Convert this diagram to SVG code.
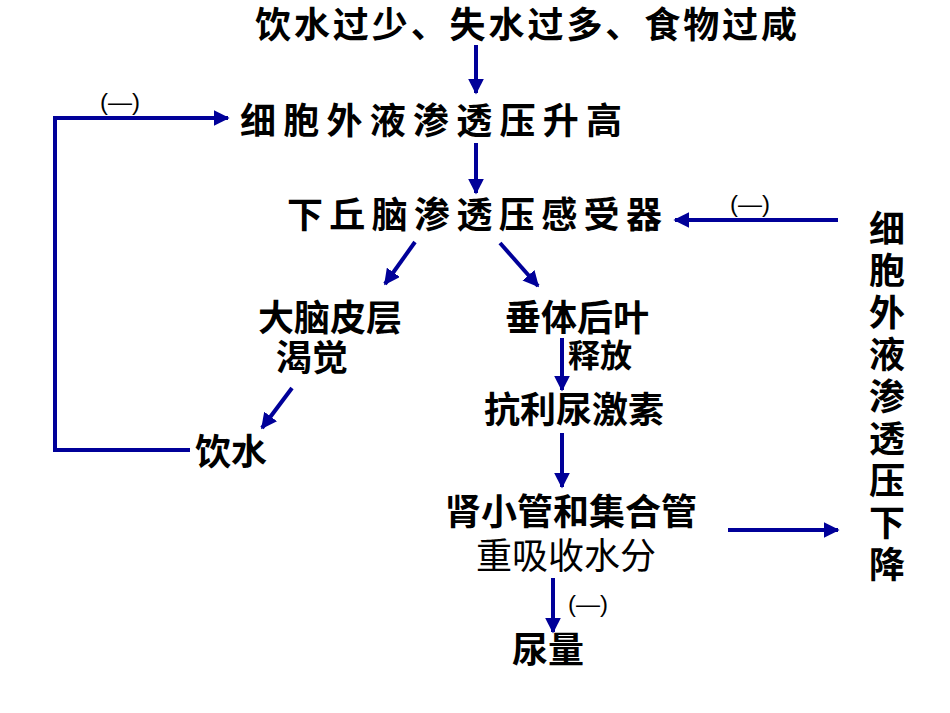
<svg xmlns="http://www.w3.org/2000/svg" width="950" height="713" viewBox="0 0 950 713">
<style>
text{font-family:"Liberation Sans","Noto Sans CJK SC",sans-serif;fill:#000;font-weight:bold;font-size:36px}
.r{font-weight:normal}
.s{font-size:24px;font-weight:normal}
.c line,.c polyline{stroke:#000099;stroke-width:4;fill:none}
</style>
<defs><marker id="a" viewBox="0 0 10 10" refX="9" refY="5" markerWidth="4" markerHeight="4" orient="auto" markerUnits="strokeWidth"><path d="M0,0L10,5L0,10z" fill="#000099"/></marker></defs>
<rect width="950" height="713" fill="#fff"/>
<g class="c">
<line x1="476" y1="45" x2="476" y2="93" marker-end="url(#a)"/>
<polyline points="190,450 55,450 55,118 228,118" marker-end="url(#a)"/>
<line x1="476" y1="143" x2="476" y2="193" marker-end="url(#a)"/>
<line x1="838" y1="220" x2="675" y2="220" marker-end="url(#a)"/>
<line x1="415" y1="242" x2="385" y2="284" marker-end="url(#a)"/>
<line x1="500" y1="243" x2="538" y2="286" marker-end="url(#a)"/>
<line x1="562" y1="338" x2="562" y2="390" marker-end="url(#a)"/>
<line x1="292" y1="388" x2="262" y2="428" marker-end="url(#a)"/>
<line x1="562" y1="433" x2="562" y2="487" marker-end="url(#a)"/>
<line x1="728" y1="530" x2="838" y2="530" marker-end="url(#a)"/>
<line x1="553" y1="578" x2="553" y2="632" marker-end="url(#a)"/>
</g>
<g id="n1"><text x="255" y="38" textLength="542">饮水过少、失水过多、食物过咸</text></g>
<g id="n2"><text x="240" y="134" textLength="382">细胞外液渗透压升高</text><text class="s" x="120" y="110" text-anchor="middle">(—)</text></g>
<g id="n3"><text x="287" y="228" textLength="375">下丘脑渗透压感受器</text><text class="s" x="750" y="212" text-anchor="middle">(—)</text></g>
<g id="n4"><text x="887" y="242" text-anchor="middle">细</text><text x="887" y="284" text-anchor="middle">胞</text><text x="887" y="326" text-anchor="middle">外</text><text x="887" y="368" text-anchor="middle">液</text><text x="887" y="410" text-anchor="middle">渗</text><text x="887" y="452" text-anchor="middle">透</text><text x="887" y="494" text-anchor="middle">压</text><text x="887" y="536" text-anchor="middle">下</text><text x="887" y="578" text-anchor="middle">降</text></g>
<g id="n5"><text x="330" y="331" text-anchor="middle">大脑皮层</text><text x="312" y="371" text-anchor="middle">渴觉</text></g>
<g id="n6"><text x="577" y="331" text-anchor="middle">垂体后叶</text><text x="600" y="367" text-anchor="middle" style="font-size:32px">释放</text></g>
<g id="n7"><text x="574" y="423" text-anchor="middle">抗利尿激素</text></g>
<g id="n8"><text x="231" y="465" text-anchor="middle">饮水</text></g>
<g id="n9"><text x="571" y="525" text-anchor="middle">肾小管和集合管</text><text class="r" x="566" y="569" text-anchor="middle">重吸收水分</text><text class="s" x="588" y="612" text-anchor="middle">(—)</text></g>
<g id="n10"><text x="548" y="663" text-anchor="middle">尿量</text></g>
</svg>
